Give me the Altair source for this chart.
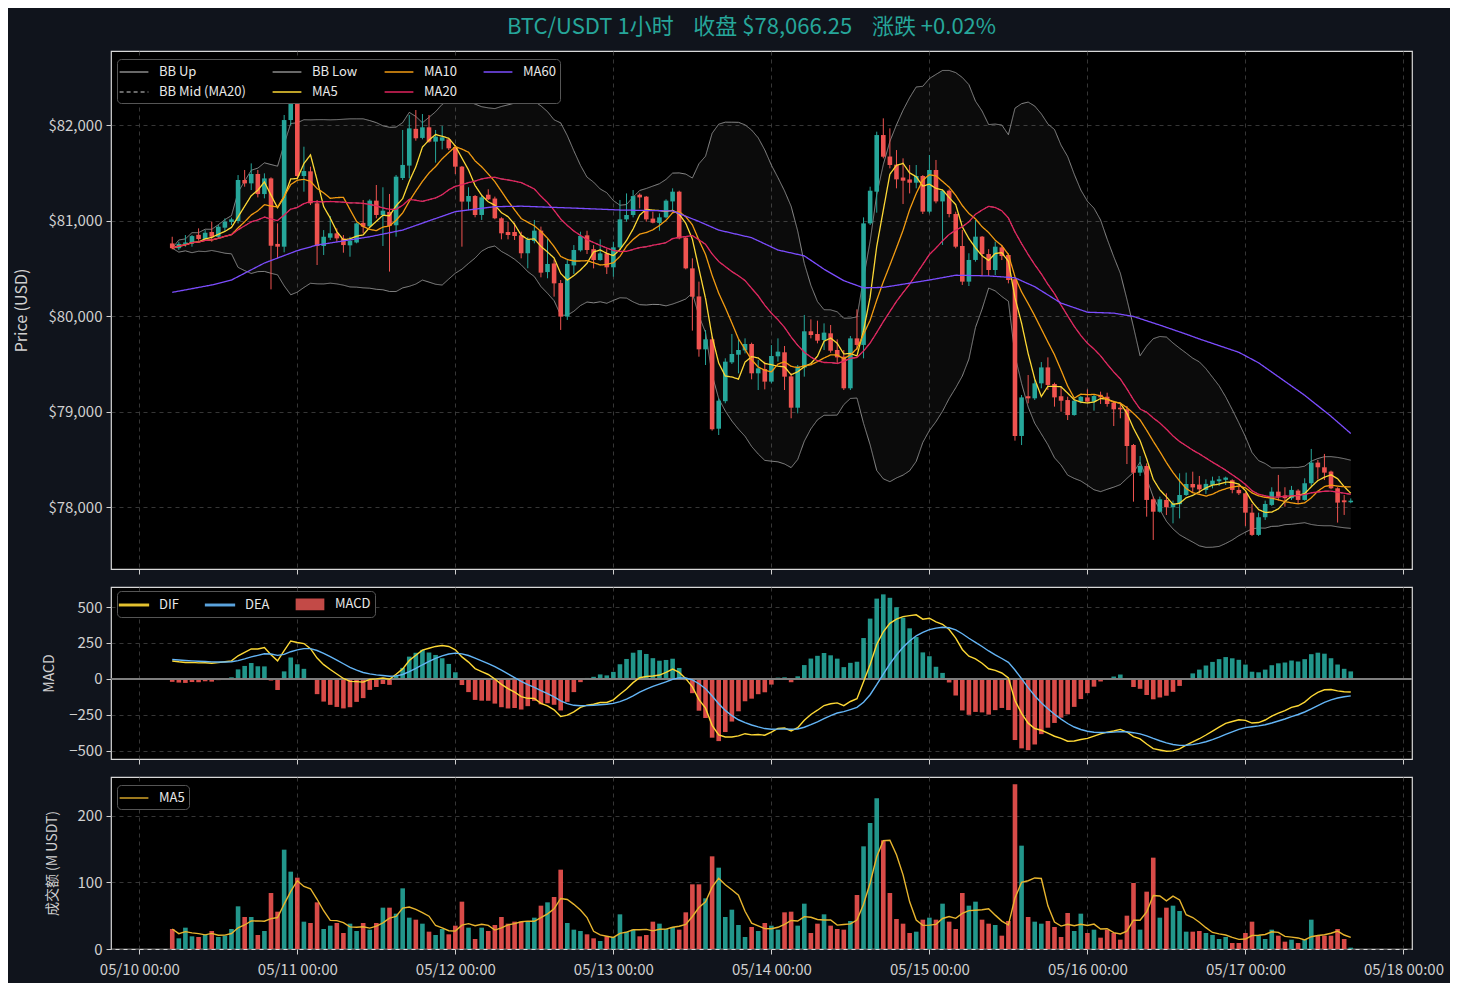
import altair as alt
import numpy as np
import pandas as pd

FONT = "Noto Sans CJK SC"
UP, DOWN = "#26a69a", "#ef5350"
BG = "#10141c"

# ---------------- data ----------------
START_HOUR = 5  # first candle 05/10 05:00 (hours counted from 05/10 00:00)

OPEN = [80760, 80710, 80755, 80760, 80850, 80806, 80880, 80830, 80925, 80985,
        80995, 81424, 81389, 81487, 81277, 81441, 80755, 80726, 82052, 82220,
        81466, 81515, 81180, 80733, 80820, 80866, 80813, 80740, 80770, 80975,
        80940, 81208, 81058, 81090, 80950, 81445, 81575, 81960, 81865, 81976,
        81826, 81835, 81850, 81770, 81564, 81198, 81257, 81058, 81270, 81230,
        81023, 80880, 80880, 80845, 80657, 80785, 80894, 80460, 80550, 80345,
        79994, 80530, 80688, 80845, 80700, 80586, 80656, 80510, 80719, 81012,
        81058, 81270, 81250, 81020, 80975, 81033, 81200, 81302, 80820, 80499,
        80205, 79651, 79756, 78820, 79108, 79515, 79595, 79640, 79707, 79400,
        79445, 79313, 79578, 79620, 79368, 79040, 79460, 79840, 79812, 79749,
        79819, 79644, 79574, 79243, 79766, 79697, 80970, 81302, 81895, 81670,
        81585, 81450, 81430, 81396, 81466, 81093, 81529, 81200, 81312, 81068,
        80733, 80360, 80587, 80831, 80649, 80482, 80719, 80639, 80384, 78744,
        79160, 79138, 79295, 79462, 79288, 79160, 79120, 78963, 79103, 79148,
        79103, 79175, 79155, 79093, 79040, 79023, 78649, 78360, 78430, 78081,
        77951, 78074, 77997, 78030, 78126, 78241, 78235, 78179, 78231, 78270,
        78285, 78280, 78179, 78144, 77941, 77708, 77893, 78022, 78161, 78120,
        78092, 78172, 78074, 78249, 78465, 78416, 78371, 78196, 78070, 78050]

HIGH = [80830, 80778, 80848, 80848, 80918, 80900, 80988, 80953, 81022, 81030,
        81476, 81529, 81598, 81529, 81494, 81452, 80970, 82105, 82500, 82410,
        81773, 81564, 81215, 80900, 81047, 80918, 80848, 80830, 80977, 81215,
        81222, 81372, 81348, 81278, 81477, 81948, 82105, 82157, 82115, 82105,
        81948, 81990, 81860, 81791, 81571, 81348, 81267, 81257, 81327, 81250,
        81034, 80988, 80978, 80883, 80824, 81006, 80936, 80814, 80594, 80377,
        80587, 80743, 80883, 80893, 80743, 80803, 80709, 80778, 81215, 81284,
        81319, 81284, 81256, 81092, 81075, 81222, 81337, 81312, 80831, 80604,
        80360, 79853, 79784, 79138, 79557, 79812, 79756, 79766, 79721, 79539,
        79522, 79696, 79766, 79686, 79400, 79487, 80011, 79965, 79951, 79923,
        79906, 79756, 79644, 79791, 80070, 81033, 81354, 81930, 82070, 81965,
        81738, 81651, 81581, 81581, 81476, 81686, 81634, 81320, 81326, 81093,
        80901, 80657, 81005, 80838, 80700, 80778, 80743, 80656, 80394, 79173,
        79382, 79330, 79518, 79567, 79302, 79260, 79155, 79127, 79162, 79232,
        79173, 79208, 79197, 79114, 79086, 79058, 78660, 78534, 78457, 78109,
        78109, 78144, 78067, 78353, 78360, 78370, 78325, 78290, 78318, 78325,
        78318, 78290, 78231, 78151, 78032, 77941, 78067, 78207, 78336, 78207,
        78221, 78186, 78301, 78608, 78493, 78556, 78381, 78207, 78126, 78090]

LOW = [80698, 80691, 80726, 80726, 80789, 80796, 80778, 80813, 80883, 80953,
       80970, 81354, 81319, 81242, 81232, 80279, 80604, 80667, 82000, 81440,
       81302, 81162, 80534, 80639, 80796, 80778, 80663, 80621, 80761, 80866,
       80936, 81023, 80733, 80465, 80831, 81424, 81442, 81836, 81850, 81815,
       81606, 81745, 81738, 81487, 80726, 81110, 81034, 81006, 81215, 81013,
       80803, 80803, 80796, 80604, 80500, 80761, 80405, 80395, 80203, 79854,
       79959, 80440, 80674, 80649, 80499, 80579, 80440, 80412, 80691, 80988,
       81033, 81127, 80988, 80970, 80893, 81023, 81103, 80803, 80489, 79847,
       79574, 79487, 78800, 78754, 79086, 79498, 79400, 79609, 79337, 79225,
       79232, 79295, 79522, 79225, 78929, 78981, 79365, 79766, 79714, 79644,
       79616, 79505, 79225, 79225, 79644, 79557, 80953, 81082, 81651, 81546,
       81337, 81173, 81284, 81337, 81068, 81075, 81180, 80744, 81033, 80709,
       80325, 80314, 80569, 80419, 80420, 80429, 80586, 80342, 78695, 78649,
       79086, 79121, 79243, 79225, 79051, 78998, 78911, 78956, 79086, 79093,
       79009, 79079, 79051, 78848, 78929, 78450, 78056, 78325, 77899, 77655,
       77941, 77916, 77829, 77881, 78116, 78151, 78144, 78137, 78196, 78221,
       78231, 78144, 78126, 77802, 77697, 77697, 77865, 78011, 78067, 78004,
       78074, 78032, 78067, 78221, 78290, 78283, 78186, 77837, 77917, 78040]

CLOSE = [80710, 80755, 80770, 80837, 80806, 80872, 80830, 80935, 80988, 81012,
         81424, 81389, 81487, 81277, 81441, 80736, 80726, 82052, 82220, 81466,
         81518, 81180, 80733, 80830, 80866, 80813, 80743, 80789, 80970, 80935,
         81208, 81058, 81103, 80943, 81459, 81582, 81965, 81861, 81976, 81826,
         81878, 81871, 81756, 81564, 81198, 81257, 81058, 81243, 81222, 81023,
         80866, 80848, 80838, 80657, 80803, 80894, 80454, 80545, 80342, 79994,
         80545, 80691, 80838, 80691, 80586, 80656, 80510, 80719, 81012, 81058,
         81256, 81242, 81012, 80977, 81033, 81208, 81302, 80813, 80499, 80202,
         79651, 79756, 78814, 79114, 79522, 79602, 79644, 79707, 79400, 79452,
         79313, 79581, 79627, 79365, 79040, 79470, 79840, 79801, 79742, 79826,
         79637, 79567, 79243, 79766, 79697, 80970, 81312, 81895, 81668, 81581,
         81431, 81417, 81396, 81466, 81093, 81529, 81200, 81312, 81068, 80726,
         80360, 80587, 80831, 80649, 80482, 80726, 80628, 80377, 78744, 79148,
         79138, 79295, 79462, 79278, 79148, 79113, 78963, 79113, 79155, 79103,
         79162, 79148, 79079, 79023, 79023, 78639, 78360, 78430, 78074, 77951,
         78081, 77997, 78039, 78126, 78241, 78205, 78185, 78242, 78276, 78290,
         78308, 78179, 78144, 77941, 77708, 77893, 78032, 78161, 78109, 78092,
         78179, 78074, 78249, 78465, 78416, 78360, 78196, 78046, 78050, 78066.25]

VOLUME = [30, 16, 32, 19, 18, 21, 27, 18, 20, 30,
          64, 48, 48, 21, 27, 84, 56, 149, 116, 107,
          41, 39, 70, 30, 35, 39, 24, 38, 27, 39,
          29, 39, 62, 62, 53, 91, 47, 44, 38, 26,
          21, 30, 22, 35, 71, 32, 15, 32, 27, 36,
          48, 38, 41, 41, 41, 47, 65, 70, 78, 119,
          39, 29, 27, 22, 16, 12, 19, 18, 52, 26,
          29, 19, 21, 41, 38, 30, 33, 29, 55, 97,
          97, 76, 139, 122, 48, 59, 36, 18, 33, 27,
          39, 35, 29, 55, 56, 35, 68, 24, 38, 52,
          35, 30, 29, 42, 81, 154, 189, 226, 163, 84,
          45, 38, 24, 26, 44, 47, 44, 68, 41, 30,
          84, 65, 71, 44, 38, 36, 20, 42, 247, 155,
          48, 41, 38, 42, 33, 18, 54, 27, 53, 24,
          29, 17, 29, 24, 14, 50, 99, 29, 86, 137,
          47, 62, 65, 57, 26, 26, 27, 24, 21, 15,
          18, 9, 9, 24, 41, 20, 15, 29, 20, 11,
          14, 9, 14, 44, 20, 20, 20, 30, 15, 2]

MA60_HOURS = [5, 11, 14, 19, 24, 27, 35, 40, 48, 54, 58, 66, 73, 81, 85, 88, 93, 97,
              101, 104, 107, 110, 113, 120, 124, 129, 133, 136, 140, 144, 148, 151,
              155, 159, 161, 167, 170, 177, 181, 184]
MA60_VALUES = [80248, 80325, 80377, 80555, 80685, 80743, 80830, 80900, 81093, 81145,
               81150, 81130, 81110, 81100, 80990, 80900, 80820, 80691, 80630, 80490,
               80370, 80295, 80300, 80377, 80427, 80420, 80400, 80307, 80135, 80040,
               80030, 79995, 79905, 79810, 79760, 79620, 79510, 79170, 78950, 78770]

# MACD state at the first candle
DIF_START = 125
DEA_START = 135

DAY_TICKS = [0, 24, 48, 72, 96, 120, 144, 168, 192]
PRICE_TICKS = [78000, 79000, 80000, 81000, 82000]
MACD_TICKS = [-500, -250, 0, 250, 500]
VOL_TICKS = [0, 100, 200]

SP = "\u00a0" * 4
TITLE = f"BTC/USDT 1小时{SP}收盘 $78,066.25{SP}涨跌 +0.02%"

# ---------------- table + indicators ----------------
n = len(CLOSE)
df = pd.DataFrame({"h": [START_HOUR + i for i in range(n)], "o": OPEN, "hi": HIGH,
                   "lo": LOW, "c": CLOSE, "vol": VOLUME})
df["col"] = np.where(df["c"] >= df["o"], UP, DOWN)
cs = df["c"].astype(float)
df["ma5"] = cs.rolling(5, min_periods=1).mean()
df["ma10"] = cs.rolling(10, min_periods=1).mean()
df["ma20"] = cs.rolling(20, min_periods=1).mean()
sd = cs.rolling(20, min_periods=2).std().fillna(0)
df["bbu"] = df["ma20"] + 2 * sd
df["bbl"] = df["ma20"] - 2 * sd
ema12 = [CLOSE[0]]
ema26 = [CLOSE[0] - DIF_START]
for v in CLOSE[1:]:
    ema12.append(ema12[-1] + 2 / 13 * (v - ema12[-1]))
    ema26.append(ema26[-1] + 2 / 27 * (v - ema26[-1]))
dif = np.array(ema12) - np.array(ema26)
dea = [DEA_START]
for d in dif[1:]:
    dea.append(dea[-1] + 2 / 10 * (d - dea[-1]))
df["dif"] = dif
df["dea"] = np.array(dea)
df["macd"] = 2 * (df["dif"] - df["dea"])
df["mcol"] = np.where(df["macd"] >= 0, UP, DOWN)
df["vma5"] = df["vol"].rolling(5, min_periods=1).mean()

bb_long = pd.concat([
    pd.DataFrame({"h": df["h"], "v": df["bbu"], "s": "BB Up"}),
    pd.DataFrame({"h": df["h"], "v": df["bbl"], "s": "BB Low"}),
    pd.DataFrame({"h": df["h"], "v": df["ma20"], "s": "BB Mid (MA20)"}),
])
ma_long = pd.concat([
    pd.DataFrame({"h": df["h"], "v": df["ma5"], "s": "MA5"}),
    pd.DataFrame({"h": df["h"], "v": df["ma10"], "s": "MA10"}),
    pd.DataFrame({"h": df["h"], "v": df["ma20"], "s": "MA20"}),
    pd.DataFrame({"h": MA60_HOURS, "v": MA60_VALUES, "s": "MA60"}),
])
macd_long = pd.concat([
    pd.DataFrame({"h": df["h"], "v": df["dif"], "s": "DIF"}),
    pd.DataFrame({"h": df["h"], "v": df["dea"], "s": "DEA"}),
])
vol_long = pd.DataFrame({"h": df["h"], "v": df["vma5"], "s": "MA5"})
key_df = pd.DataFrame({"h": pd.Series([], dtype=float), "v": pd.Series([], dtype=float),
                       "s": pd.Series([], dtype=str)})

# ---------------- scales / axes ----------------
W = 1301
XS = alt.Scale(domain=[-4.3, 193.3], nice=False, zero=False, padding=0)
PS = alt.Scale(domain=[77351, 82775], nice=False, zero=False, padding=0)
MS = alt.Scale(domain=[-556, 639], nice=False, zero=False, padding=0)
VS = alt.Scale(domain=[0, 258], nice=False, zero=False, padding=0)


def x_axis(labels):
    return alt.Axis(values=DAY_TICKS, title=None, labels=labels, grid=True,
                    labelExpr="'05/' + (10 + datum.value / 24) + ' 00:00'",
                    labelPadding=8, tickSize=5)


def y_axis(title, values, fmt, extent, tpad, tsize):
    return alt.Axis(title=title, values=values, format=fmt, grid=True, tickSize=5,
                    labelPadding=4, minExtent=extent, maxExtent=extent,
                    titlePadding=tpad, titleFontSize=tsize)


XA_TOP = x_axis(False)
XA_BOT = x_axis(True)
YA_P = y_axis("Price (USD)", PRICE_TICKS, "$,.0f", 70, 12, 16)
YA_M = y_axis("MACD", MACD_TICKS, ",d", 45, 10, 14)
YA_V = y_axis("成交额 (M USDT)", VOL_TICKS, "d", 45, 7, 14)

LINE_SYM = "M-1.8,0H1.8"
LEG = dict(title=None, orient="none", labelColor="#e8e8e8", labelFontSize=13,
           labelFont=FONT, fillColor="#000000", strokeColor="#555555",
           cornerRadius=4, padding=4, rowPadding=4, symbolSize=256,
           symbolOffset=4, labelOffset=16)

PRICE_SERIES = ["BB Up", "BB Mid (MA20)", "BB Low", "MA5", "MA10", "MA20", "MA60"]
PRICE_COLORS = ["#8c8c8c", "#8c8c8c", "#8c8c8c", "#fdd835", "#f39c12", "#e0245e", "#7c4dff"]
PRICE_DASH = [[1, 0], [4, 3], [1, 0], [1, 0], [1, 0], [1, 0], [1, 0]]
price_legend = alt.Legend(legendX=6, legendY=8, columns=4, columnPadding=23,
                          symbolType=LINE_SYM, symbolStrokeWidth=1.5, **LEG)
p_color = alt.Color("s:N", scale=alt.Scale(domain=PRICE_SERIES, range=PRICE_COLORS), legend=price_legend)
p_dash = alt.StrokeDash("s:N", scale=alt.Scale(domain=PRICE_SERIES, range=PRICE_DASH), legend=price_legend)

base = alt.Chart(df)
px = alt.X("h:Q", scale=XS, axis=XA_TOP)
band = base.mark_area(color="#ffffff", opacity=0.045).encode(
    x=px, y=alt.Y("bbl:Q", scale=PS, axis=YA_P), y2="bbu:Q")
bb_lines = alt.Chart(bb_long).mark_line(strokeWidth=1).encode(
    x=px, y=alt.Y("v:Q", scale=PS, axis=YA_P), color=p_color, strokeDash=p_dash)
wicks = base.mark_rule(strokeWidth=1).encode(
    x=px, y=alt.Y("lo:Q", scale=PS, axis=YA_P), y2="hi:Q",
    color=alt.Color("col:N", scale=None))
bodies = base.mark_bar(size=4.6).encode(
    x=px, y=alt.Y("o:Q", scale=PS, axis=YA_P), y2="c:Q",
    color=alt.Color("col:N", scale=None))
ma_lines = alt.Chart(ma_long).mark_line(strokeWidth=1.3).encode(
    x=px, y=alt.Y("v:Q", scale=PS, axis=YA_P), color=p_color, strokeDash=p_dash)
price = alt.layer(band, bb_lines, wicks, bodies, ma_lines).properties(width=W, height=518)

# MACD panel
MACD_SERIES = ["DIF", "DEA", "MACD"]
MACD_COLORS = ["#fdd835", "#64b5f6", "#d9534f"]
MACD_SHAPES = ["M-1.8,-0.09H1.8V0.09H-1.8Z", "M-1.8,-0.09H1.8V0.09H-1.8Z",
               "M-1.7,-0.65H1.7V0.65H-1.7Z"]
macd_legend = alt.Legend(legendX=6, legendY=4, columns=3, columnPadding=23, **LEG)
mx = alt.X("h:Q", scale=XS, axis=XA_TOP)
macd_bars = base.mark_bar(size=4.6, opacity=0.9).encode(
    x=mx, y=alt.Y("macd:Q", scale=MS, axis=YA_M), color=alt.Color("mcol:N", scale=None))
zero = alt.Chart(df).mark_rule(color="#808080", strokeWidth=0.8).encode(
    y=alt.Y(datum=0, scale=MS, axis=YA_M))
macd_lines = alt.Chart(macd_long).mark_line(strokeWidth=1.4).encode(
    x=mx, y=alt.Y("v:Q", scale=MS, axis=YA_M),
    stroke=alt.Stroke("s:N", scale=alt.Scale(domain=MACD_SERIES, range=MACD_COLORS), legend=None))
macd_key = alt.Chart(key_df).mark_point(filled=True, size=256, opacity=1).encode(
    x=mx, y=alt.Y("v:Q", scale=MS, axis=YA_M),
    color=alt.Color("s:N", scale=alt.Scale(domain=MACD_SERIES, range=MACD_COLORS), legend=macd_legend),
    shape=alt.Shape("s:N", scale=alt.Scale(domain=MACD_SERIES, range=MACD_SHAPES), legend=macd_legend))
macd = alt.layer(macd_bars, zero, macd_lines, macd_key).properties(width=W, height=172)

# Volume panel
vol_legend = alt.Legend(legendX=6, legendY=8, symbolType=LINE_SYM,
                        symbolStrokeWidth=1.5, **LEG)
vx = alt.X("h:Q", scale=XS, axis=XA_BOT)
vol_bars = base.mark_bar(size=4.6, opacity=0.9).encode(
    x=vx, y=alt.Y("vol:Q", scale=VS, axis=YA_V), color=alt.Color("col:N", scale=None))
vol_line = alt.Chart(vol_long).mark_line(strokeWidth=1.4).encode(
    x=vx, y=alt.Y("v:Q", scale=VS, axis=YA_V),
    color=alt.Color("s:N", scale=alt.Scale(domain=["MA5"], range=["#e8b52e"]), legend=vol_legend))
volume = alt.layer(vol_bars, vol_line).properties(width=W, height=172)

chart = alt.vconcat(price, macd, volume, spacing=18, bounds="flush").resolve_scale(
    color="independent", strokeDash="independent", shape="independent",
    stroke="independent", y="independent"
).resolve_legend(color="independent", strokeDash="independent", shape="independent").properties(
    title=alt.TitleParams(text=TITLE, color=UP, fontSize=22, font=FONT, fontWeight="normal",
                          anchor="middle", frame="group", offset=11, dx=-10, limit=0),
    background=BG, padding={"left": 4, "top": 8, "right": 5, "bottom": 5},
).configure_view(fill="#000000", stroke="#d8d8d8", strokeWidth=1.2).configure_axis(
    labelColor="#d0d0d0", titleColor="#d0d0d0", labelFont=FONT, titleFont=FONT,
    labelFontSize=15, titleFontWeight="normal", tickColor="#d0d0d0", domain=False,
    gridColor="#444444", gridDash=[4, 4], gridWidth=0.8)

chart.save("out.html", embed_options={"renderer": "svg", "actions": False})
